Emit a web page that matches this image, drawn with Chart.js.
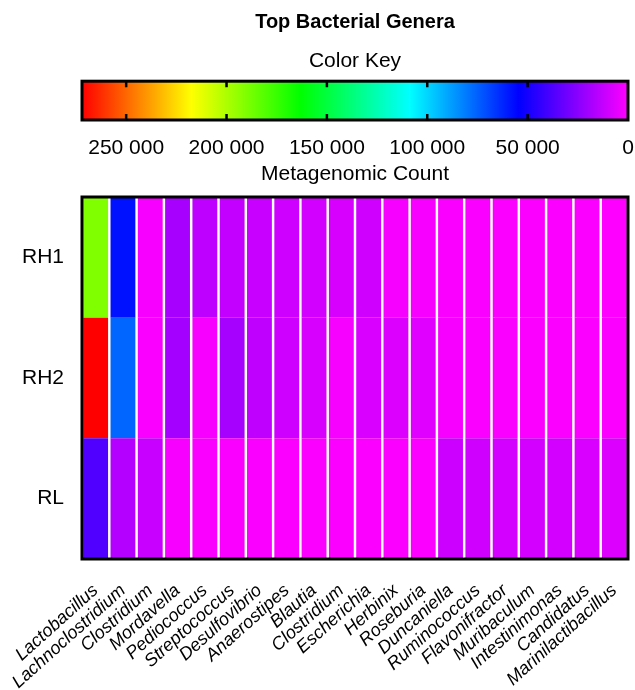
<!DOCTYPE html>
<html>
<head>
<meta charset="utf-8">
<script src="https://cdn.jsdelivr.net/npm/chart.js@4.4.1/dist/chart.umd.min.js"></script>
<style>
  body { margin: 0; background: #fff; }
  #wrap { position: relative; width: 635px; height: 690px; }
  #keyBox { position: absolute; left: 0; top: 0; width: 635px; height: 188px; }
  #heatBox { position: absolute; left: 0; top: 188px; width: 635px; height: 502px; }
</style>
</head>
<body>
<div id="wrap">
  <div id="keyBox"><canvas id="keyChart"></canvas></div>
  <div id="heatBox"><canvas id="heatChart"></canvas></div>
</div>
<script>
// Genera (columns) and samples (rows)
const genera = ['Lactobacillus', 'Lachnoclostridium', 'Clostridium', 'Mordavella', 'Pediococcus',
  'Streptococcus', 'Desulfovibrio', 'Anaerostipes', 'Blautia', 'Clostridium', 'Escherichia',
  'Herbinix', 'Roseburia', 'Duncaniella', 'Ruminococcus', 'Flavonifractor', 'Muribaculum',
  'Intestinimonas', 'Candidatus', 'Marinilactibacillus'];
const rows = ['RH1', 'RH2', 'RL'];

// Metagenomic counts
const countsRH1 = [190400, 58000, 1500, 18600, 14000, 12700, 11800, 10500, 9500, 8500,
  10000, 2000, 1500, 1200, 1000, 900, 800, 700, 600, 500];
const countsRH2 = [272000, 76200, 1200, 19400, 1500, 19000, 13600, 10500, 8500, 2000,
  8200, 7400, 6800, 1500, 1200, 1000, 900, 800, 700, 600];
const countsRL = [37300, 16000, 11800, 1500, 1200, 1000, 1000, 900, 900, 800,
  800, 700, 700, 10900, 10000, 9100, 9100, 9100, 8200, 7400];

// Colour key
const keyMax = 272000;
const keyTicks = [0, 50000, 100000, 150000, 200000, 250000];

Chart.defaults.font.family = '"Liberation Sans", Arial, sans-serif';
Chart.defaults.color = '#000';

// rainbow: max count = red, zero = magenta
function countColor(v) {
  const hue = 300 * (1 - v / keyMax);
  return `hsl(${hue}, 100%, 50%)`;
}

function spaced(v) {
  return String(v).replace(/\B(?=(\d{3})+(?!\d))/g, ' ');
}

// black frame round the plot area, plus inner tick marks on the key
const frame = {
  id: 'frame',
  afterDatasetsDraw(chart, args, opts) {
    const { ctx, chartArea: a } = chart;
    ctx.save();
    ctx.strokeStyle = '#000';
    ctx.lineWidth = 3;
    ctx.strokeRect(a.left, a.top, a.right - a.left, a.bottom - a.top);
    if (opts.ticks) {
      const x = chart.scales.x;
      ctx.lineWidth = 2.5;
      x.ticks.forEach(t => {
        if (t.value === 0) return;
        const px = x.getPixelForValue(t.value);
        ctx.beginPath();
        ctx.moveTo(px, a.top); ctx.lineTo(px, a.top + 6);
        ctx.moveTo(px, a.bottom); ctx.lineTo(px, a.bottom - 6);
        ctx.stroke();
      });
    }
    ctx.restore();
  }
};

// fix a scale's box so the plot area lands where the reference has it
function fixBox(size) {
  return s => {
    if (s.isHorizontal()) s.height = size; else s.width = size;
    s.paddingLeft = s.paddingRight = s.paddingTop = s.paddingBottom = 0;
  };
}

// Colour key chart
new Chart(document.getElementById('keyChart'), {
  type: 'bar',
  data: {
    labels: ['key'],
    datasets: [{
      data: [keyMax],
      backgroundColor: c => {
        const a = c.chart.chartArea;
        if (!a) return null;
        const g = c.chart.ctx.createLinearGradient(a.left, 0, a.right, 0);
        [0, 60, 120, 180, 240, 300].forEach((h, i) => g.addColorStop(i / 5, `hsl(${h}, 100%, 50%)`));
        return g;
      },
      barPercentage: 1,
      categoryPercentage: 1,
      borderWidth: 0
    }]
  },
  options: {
    indexAxis: 'y',
    responsive: true,
    maintainAspectRatio: false,
    animation: false,
    layout: { padding: { left: 82, right: 7, top: 0, bottom: 1 } },
    plugins: {
      legend: { display: false },
      tooltip: { enabled: false },
      title: {
        display: true, text: 'Top Bacterial Genera', color: '#000',
        font: { size: 20, weight: 'bold' }, padding: { top: 10, bottom: 5 }
      },
      subtitle: {
        display: true, text: 'Color Key', color: '#000',
        font: { size: 21 }, padding: { top: 10, bottom: 7 }
      },
      frame: { ticks: true }
    },
    scales: {
      y: { display: false },
      x: {
        reverse: true,
        min: 0,
        max: keyMax,
        afterBuildTicks: s => { s.ticks = keyTicks.map(v => ({ value: v })); },
        afterFit: fixBox(67),
        grid: { display: false, drawTicks: false },
        border: { display: false },
        ticks: { font: { size: 21 }, padding: 16, maxRotation: 0, autoSkip: false, callback: v => spaced(v) },
        title: { display: true, text: 'Metagenomic Count', font: { size: 21 }, padding: { top: 0, bottom: 0 } }
      }
    }
  },
  plugins: [frame]
});

// Heatmap: one stacked unit bar per cell, coloured by its count
const rowCounts = [countsRH1, countsRH2, countsRL];
new Chart(document.getElementById('heatChart'), {
  type: 'bar',
  data: {
    labels: genera,
    datasets: rows.map((r, i) => ({
      label: r,
      data: genera.map(() => 1),
      backgroundColor: rowCounts[i].map(countColor),
      barPercentage: 0.91,
      categoryPercentage: 1,
      borderWidth: 0
    })).reverse()
  },
  options: {
    responsive: true,
    maintainAspectRatio: false,
    animation: false,
    layout: { padding: { left: 20, right: 7, top: 9, bottom: 0 } },
    plugins: {
      legend: { display: false },
      tooltip: { enabled: false },
      frame: {}
    },
    scales: {
      x: {
        stacked: true,
        afterFit: fixBox(131),
        grid: { display: false, drawTicks: false },
        border: { display: false },
        ticks: { font: { size: 18, style: 'italic' }, minRotation: 42, maxRotation: 42, autoSkip: false, padding: 21 }
      },
      y: { stacked: true, display: false, min: 0, max: 3 },
      rowAxis: {
        type: 'category',
        labels: rows,
        position: 'left',
        offset: true,
        afterFit: fixBox(62),
        grid: { display: false, drawTicks: false },
        border: { display: false },
        ticks: { font: { size: 21 }, padding: 18 }
      }
    }
  },
  plugins: [frame]
});
</script>
</body>
</html>
